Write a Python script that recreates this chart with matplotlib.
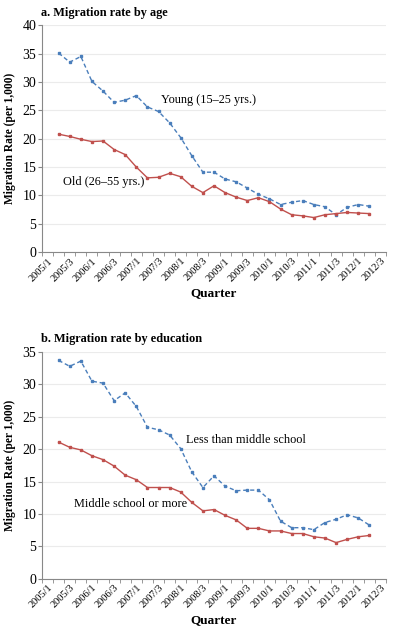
import matplotlib
matplotlib.use("Agg")
import matplotlib.pyplot as plt

plt.rcParams["font.family"] = ["Liberation Serif", "DejaVu Serif"]

# quarters on the axis (2005/1 .. 2012/3), data runs 2005/2 .. 2012/2
quarters = [f"{y}/{q}" for y in range(2005, 2013) for q in range(1, 5)][:31]
data_quarters = quarters[1:30]

young = [35.1, 33.5, 34.5, 30.1, 28.4, 26.4, 26.8, 27.6, 25.6, 24.8,
         22.8, 20.2, 17.0, 14.1, 14.1, 12.9, 12.4, 11.3, 10.2, 9.4,
         8.4, 8.8, 9.1, 8.4, 8.0, 6.6, 7.9, 8.4, 8.1]
old = [20.8, 20.4, 19.9, 19.5, 19.6, 18.1, 17.2, 15.0, 13.1, 13.2,
       13.9, 13.3, 11.6, 10.5, 11.7, 10.5, 9.7, 9.1, 9.6, 8.9,
       7.6, 6.6, 6.4, 6.1, 6.6, 6.8, 7.0, 6.9, 6.8]

less_middle = [33.7, 32.8, 33.6, 30.5, 30.2, 27.5, 28.7, 26.6, 23.4, 23.0,
               22.2, 20.1, 16.5, 14.1, 15.9, 14.3, 13.6, 13.7, 13.7, 12.2,
               8.9, 7.9, 7.9, 7.6, 8.7, 9.2, 9.9, 9.4, 8.3]
middle_more = [21.1, 20.3, 19.9, 19.0, 18.4, 17.4, 16.0, 15.3, 14.1, 14.1,
               14.1, 13.4, 11.8, 10.5, 10.7, 9.8, 9.1, 7.8, 7.8, 7.4,
               7.4, 7.0, 7.0, 6.5, 6.3, 5.6, 6.1, 6.5, 6.7]

blue = "#4a7ebb"
red = "#c0504d"

fig = plt.figure(figsize=(4, 6.32), dpi=100)


def draw_panel(ax, title, top_series, bottom_series, ymax, top_label, top_xy,
               bottom_label, bottom_xy):

    x = [quarters.index(q) + 0.5 for q in data_quarters]

    ax.plot(x, top_series, color=blue, ls=(0, (3, 2)), lw=1.0,
            marker="s", ms=1.6, zorder=3)
    ax.plot(x, bottom_series, color=red, ls="-", lw=1.0,
            marker="s", ms=1.6, zorder=3)

    ax.set_xlim(0, len(quarters))
    ax.set_ylim(0, ymax)
    ax.set_yticks(range(0, ymax + 1, 5))
    ax.yaxis.grid(True, color="#ebebeb", lw=0.8)
    ax.set_axisbelow(True)

    ax.set_xticks(range(0, len(quarters) + 1), minor=True)
    ax.set_xticks([i + 0.5 for i in range(0, len(quarters), 2)])
    ax.set_xticklabels(quarters[::2], rotation=45, ha="right",
                       rotation_mode="anchor", fontsize=7.5)
    ax.tick_params(axis="x", which="major", length=0, pad=3)
    ax.tick_params(axis="x", which="minor", length=3, color="#888888",
                   direction="out")
    ax.tick_params(axis="y", length=3, color="#888888", labelsize=10, pad=1)

    for s in ["top", "right"]:
        ax.spines[s].set_visible(False)
    for s in ["left", "bottom"]:
        ax.spines[s].set_color("#888888")

    ax.set_xlabel("Quarter", fontsize=9.5, fontweight="bold", labelpad=3)
    ax.set_ylabel("Migration Rate (per 1,000)", fontsize=8.3,
                  fontweight="bold", labelpad=5)
    ax.set_title(title, loc="left", fontsize=8.8, fontweight="bold",
                 x=-0.003, pad=7)

    ax.text(top_xy[0], top_xy[1], top_label, fontsize=8.8, va="center")
    ax.text(bottom_xy[0], bottom_xy[1], bottom_label, fontsize=8.8,
            va="center")


ax1 = fig.add_axes([0.105, 0.601, 0.86, 0.359])
draw_panel(ax1, "a. Migration rate by age", young, old, 40,
           "Young (15\u201325 yrs.)", (10.7, 26.8),
           "Old (26\u201355 yrs.)", (1.9, 12.3))

ax2 = fig.add_axes([0.105, 0.084, 0.86, 0.359])
draw_panel(ax2, "b. Migration rate by education", less_middle, middle_more, 35,
           "Less than middle school", (13.0, 21.4),
           "Middle school or more", (2.9, 11.6))

fig.savefig("out.png", dpi=100)
